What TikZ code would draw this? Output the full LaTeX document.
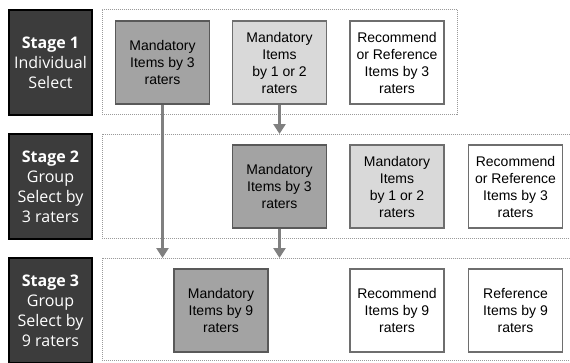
\documentclass[tikz,border=0pt]{standalone}
\usepackage{fontspec}
\setmainfont{Liberation Sans}
\newfontfamily\stagefont{Open Sans}[BoldFont={* Bold}]
\usetikzlibrary{arrows.meta}
\definecolor{stagefill}{HTML}{3C3C3C}
\definecolor{darkitem}{HTML}{A3A3A3}
\definecolor{lightitem}{HTML}{D9D9D9}
\definecolor{itemborder}{HTML}{6E6E6E}
\definecolor{arrowgray}{HTML}{808080}
\definecolor{framegray}{HTML}{9A9A9A}
\tikzset{
  stagebox/.style={draw=black, line width=1.5pt, fill=stagefill, text=white,
    minimum width=83pt, minimum height=105pt, inner sep=0pt, align=center,
    font=\stagefont\fontsize{16}{20}\selectfont},
  item/.style={draw=itemborder, line width=1.3pt, minimum width=94pt,
    minimum height=83pt, inner sep=0pt, align=center,
    font=\fontsize{14}{17}\selectfont},
  darkbox/.style={item, fill=darkitem, draw=black!65},
  lightbox/.style={item, fill=lightitem},
  whitebox/.style={item, fill=white},
  frame/.style={draw=framegray, line width=0.9pt, dash pattern=on 1pt off 1pt,
    inner sep=0pt, anchor=north west},
  flow/.style={draw=arrowgray, line width=3pt,
    -{Triangle[width=12pt,length=10pt]}}
}
\begin{document}
\begin{tikzpicture}[x=1pt,y=-1pt]
\useasboundingbox (0,0) rectangle (570,362);
\clip (0,0) rectangle (570,362);
% frames
\node[frame, minimum width=355pt, minimum height=105pt] (f1) at (102,9) {};
\node[frame, minimum width=480pt, minimum height=104pt] (f2) at (102,134) {};
\node[frame, minimum width=480pt, minimum height=102pt] (f3) at (102,258) {};
% stage labels
\node[stagebox] (s1) at (50.5,62.5) {\textbf{Stage 1}\\Individual\\Select};
\node[stagebox] (s2) at (50.5,186.5) {\textbf{Stage 2}\\Group\\Select by\\3 raters};
\node[stagebox] (s3) at (50.5,310.5) {\textbf{Stage 3}\\Group\\Select by\\9 raters};
% stage 1 items
\node[darkbox] (a1) at (162.5,62.5) {Mandatory\\Items by 3\\raters};
\node[lightbox] (a2) at (279.5,62.5) {Mandatory\\Items\\by 1 or 2\\raters};
\node[whitebox] (a3) at (397,62.5) {Recommend\\or Reference\\Items by 3\\raters};
% stage 2 items
\node[darkbox] (b1) at (279.5,186.5) {Mandatory\\Items by 3\\raters};
\node[lightbox] (b2) at (397,186.5) {Mandatory\\Items\\by 1 or 2\\raters};
\node[whitebox] (b3) at (515.5,186.5) {Recommend\\or Reference\\Items by 3\\raters};
% stage 3 items
\node[darkbox] (c1) at (221,310.5) {Mandatory\\Items by 9\\raters};
\node[whitebox] (c2) at (397,310.5) {Recommend\\Items by 9\\raters};
\node[whitebox] (c3) at (515.5,310.5) {Reference\\Items by 9\\raters};
% arrows
\draw[flow] (a1.south) -- (a1.south |- f3.north);
\draw[flow] (a2.south) -- (a2.south |- f2.north);
\draw[flow] (b1.south) -- (b1.south |- f3.north);
\end{tikzpicture}
\end{document}
